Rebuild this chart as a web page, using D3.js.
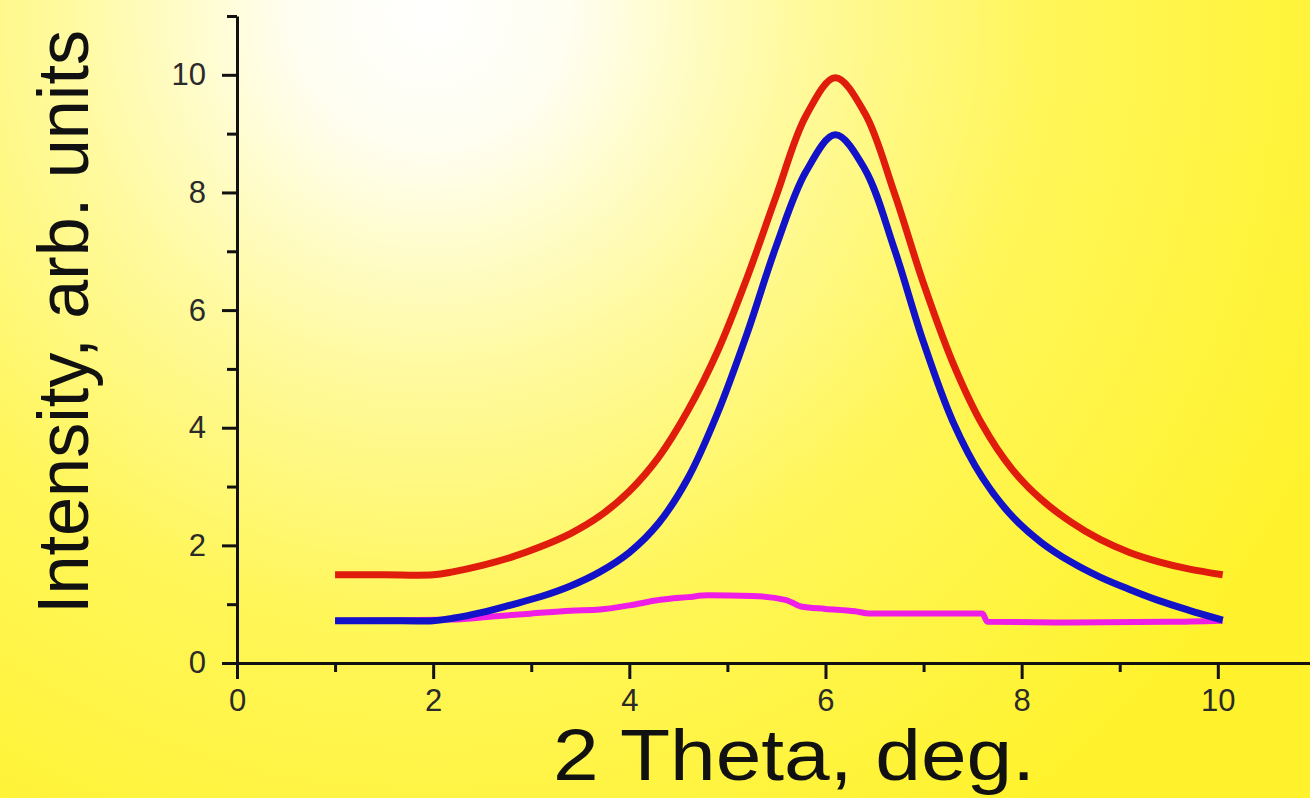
<!DOCTYPE html>
<html>
<head>
<meta charset="utf-8">
<script src="https://cdn.jsdelivr.net/npm/d3@7"></script>
<style>
    html, body { margin: 0; padding: 0; overflow: hidden; }
    svg { display: block; }
</style>
</head>
<body>
<script>
    // DATA
    var theta = [1.0, 1.5, 2.0, 2.2, 2.5, 2.8, 3.1, 3.4, 3.7, 4.0, 4.3, 4.6, 4.9, 5.2, 5.5,
        5.8, 6.1, 6.4, 6.7, 7.0, 7.3, 7.6, 7.9, 8.2, 8.5, 8.8, 9.1, 9.4, 9.7, 10.05];
    var redIntensity = [1.50, 1.50, 1.50, 1.55, 1.66, 1.80, 1.98, 2.20, 2.50, 2.92, 3.50, 4.30, 5.30, 6.55, 7.95,
        9.30, 9.95, 9.35, 8.00, 6.45, 5.10, 4.05, 3.30, 2.78, 2.40, 2.10, 1.88, 1.72, 1.60, 1.50];
    var blueIntensity = [0.72, 0.72, 0.72, 0.76, 0.86, 0.99, 1.13, 1.31, 1.55, 1.88, 2.38, 3.15, 4.25, 5.60, 7.10,
        8.35, 8.98, 8.40, 7.05, 5.45, 4.10, 3.15, 2.50, 2.05, 1.72, 1.46, 1.25, 1.06, 0.90, 0.73];
    var magentaTheta = [1.0, 2.2, 2.6, 3.0, 3.4, 3.7, 4.0, 4.3, 4.6, 4.8, 5.25, 5.6, 5.75, 6.0, 6.3,
        6.45, 6.8, 7.6, 7.65, 8.5, 9.5, 10.05];
    var magentaIntensity = [0.72, 0.74, 0.79, 0.84, 0.89, 0.91, 0.98, 1.07, 1.12, 1.15, 1.14, 1.07, 0.96, 0.92, 0.88,
        0.84, 0.84, 0.84, 0.70, 0.69, 0.70, 0.72];

    var xMajor = [0, 2, 4, 6, 8, 10],
        xMinor = [1, 3, 5, 7, 9],
        yMajor = [0, 2, 4, 6, 8, 10],
        yMinor = [1, 3, 5, 7, 9, 11];

    var W = 1310, H = 798;

    var svg = d3.select('body').append('svg')
            .attr('width', W)
            .attr('height', H);

    // BACKGROUND GLOW
    var defs = svg.append('defs');
    var glow = defs.append('radialGradient')
            .attr('id', 'glow')
            .attr('gradientUnits', 'userSpaceOnUse')
            .attr('cx', 430).attr('cy', 10).attr('r', 1000);
    glow.append('stop').attr('offset', '0').attr('stop-color', '#ffffff');
    glow.append('stop').attr('offset', '0.14').attr('stop-color', '#fffef0');
    glow.append('stop').attr('offset', '0.36').attr('stop-color', '#fffaa0');
    glow.append('stop').attr('offset', '0.62').attr('stop-color', '#fff658');
    glow.append('stop').attr('offset', '1').attr('stop-color', '#fff22c');

    svg.append('rect').attr('width', W).attr('height', H).attr('fill', 'url(#glow)');

    // SCALES
    var x = d3.scaleLinear().domain([0, 10.94]).range([237, 1310]);
    var y = d3.scaleLinear().domain([0, 11]).range([663, 16]);

    // AXES
    svg.append('g')
            .attr('transform', 'translate(0,' + y(0) + ')')
            .call(d3.axisBottom(x).tickValues(xMajor).tickSize(16).tickSizeOuter(0).tickPadding(10));
    svg.append('g')
            .attr('transform', 'translate(0,' + y(0) + ')')
            .call(d3.axisBottom(x).tickValues(xMinor).tickSize(9).tickSizeOuter(0).tickFormat(''))
            .select('.domain').remove();

    svg.append('g')
            .attr('transform', 'translate(' + x(0) + ',0)')
            .call(d3.axisLeft(y).tickValues(yMajor).tickSize(15).tickSizeOuter(0).tickPadding(16));
    svg.append('g')
            .attr('transform', 'translate(' + x(0) + ',0)')
            .call(d3.axisLeft(y).tickValues(yMinor).tickSize(10).tickSizeOuter(0).tickFormat(''))
            .select('.domain').remove();

    svg.selectAll('.domain, .tick line')
            .attr('stroke', '#111')
            .attr('stroke-width', 3);
    svg.selectAll('.tick text')
            .attr('fill', '#2a2a2a')
            .attr('font-family', '"Liberation Sans Narrow", "Liberation Sans", Arial, sans-serif')
            .attr('font-size', 31);

    // CURVES
    var line = d3.line()
            .x(function (d) { return x(d[0]); })
            .y(function (d) { return y(d[1]); })
            .curve(d3.curveCatmullRom.alpha(0.5));

    var magentaLine = d3.line()
            .x(function (d) { return x(d[0]); })
            .y(function (d) { return y(d[1]); })
            .curve(d3.curveMonotoneX);

    svg.append('path')
            .datum(d3.zip(magentaTheta, magentaIntensity))
            .attr('fill', 'none')
            .attr('stroke', '#ee1ee6')
            .attr('stroke-width', 6)
            .attr('d', magentaLine);

    svg.append('path')
            .datum(d3.zip(theta, blueIntensity))
            .attr('fill', 'none')
            .attr('stroke', '#1212c8')
            .attr('stroke-width', 7)
            .attr('stroke-linejoin', 'round')
            .attr('d', line);

    svg.append('path')
            .datum(d3.zip(theta, redIntensity))
            .attr('fill', 'none')
            .attr('stroke', '#e01c0c')
            .attr('stroke-width', 7)
            .attr('stroke-linejoin', 'round')
            .attr('d', line);

    // AXIS TITLES
    svg.append('text')
            .attr('transform', 'translate(88,322) rotate(-90)')
            .attr('text-anchor', 'middle')
            .attr('font-family', '"Liberation Sans", Arial, sans-serif')
            .attr('font-size', 73)
            .attr('textLength', 584)
            .attr('lengthAdjust', 'spacingAndGlyphs')
            .attr('fill', '#111')
            .text('Intensity, arb. units');

    svg.append('text')
            .attr('x', 794)
            .attr('y', 780)
            .attr('text-anchor', 'middle')
            .attr('font-family', '"Liberation Sans", Arial, sans-serif')
            .attr('font-size', 72)
            .attr('textLength', 482)
            .attr('lengthAdjust', 'spacingAndGlyphs')
            .attr('fill', '#111')
            .text('2 Theta, deg.');
</script>
</body>
</html>
